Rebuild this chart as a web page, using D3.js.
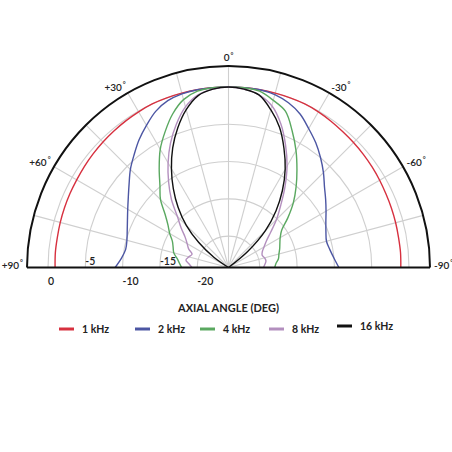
<!DOCTYPE html>
<html><head><meta charset="utf-8">
<script src="https://cdn.jsdelivr.net/npm/d3@7"></script>
<style>html,body{margin:0;padding:0;background:#fff;}svg{display:block;font-family:Lato,"Open Sans",sans-serif;}</style>
</head><body><svg id="chart" width="452" height="452"></svg>
<script>
// Angles (deg): + = left side, - = right side
const angles = [-90,-85,-80,-75,-70,-65,-60,-55,-50,-45,-40,-35,-30,-25,-20,-15,-10,-5,0,5,10,15,20,25,30,35,40,45,50,55,60,65,70,75,80,85,90];
// Relative level (dB) per series, same order as angles
const khz1  = [-1.1,-1.05,-1.05,-1.0,-0.95,-0.9,-0.8,-0.7,-0.6,-0.5,-0.4,-0.25,-0.1,0,0,0,0,0,0,0,0,0,0,0,-0.1,-0.2,-0.3,-0.4,-0.5,-0.6,-0.7,-0.75,-0.8,-0.85,-0.9,-0.9,-0.95];
const khz2  = [-9.4,-10.0,-10.4,-10.6,-10.3,-9.8,-9.1,-8.3,-7.4,-6.2,-5.0,-3.8,-2.7,-1.5,-0.7,-0.2,0,0,0,0,0,-0.1,-0.4,-1.1,-2.2,-3.3,-4.5,-5.6,-6.8,-7.8,-8.6,-9.25,-9.75,-10.1,-10.2,-9.8,-9.0];
const khz4  = [-18.0,-17.8,-17.4,-17.2,-16.9,-16.6,-16.2,-15.5,-13.8,-11.9,-10.1,-8.2,-6.1,-4.0,-1.9,-1.0,-0.2,0,0,0,-0.2,-0.9,-2.3,-4.1,-5.9,-8.0,-9.9,-11.3,-13.1,-14.3,-15.1,-15.9,-16.3,-16.6,-17.2,-17.6,-17.9];
const khz8  = [-19.5,-19.3,-19.1,-19.2,-19.4,-19.2,-18.7,-18.0,-16.8,-15.1,-13.3,-11.0,-8.5,-6.1,-3.7,-1.75,-0.7,-0.2,0,-0.2,-0.7,-1.9,-3.75,-5.8,-8.0,-10.2,-12.3,-14.5,-15.9,-17.1,-17.8,-18.3,-19.0,-18.7,-18.4,-18.9,-19.3];
const khz16 = [-30,-30,-30,-30,-30,-30,-30,-25,-20.8,-17.2,-14.3,-11.6,-9.0,-6.6,-4.2,-2.3,-0.7,-0.2,0,-0.2,-0.8,-2.3,-4.3,-6.5,-8.9,-11.3,-13.7,-16.2,-19.0,-21.8,-26,-30,-30,-30,-30,-30,-30];
const seriesNames = ["1 kHz","2 kHz","4 kHz","8 kHz","16 kHz"];
const seriesColors = ["#d7303f","#4c56a3","#5aa860","#b38fbe","#111111"];
const seriesValues = [khz1,khz2,khz4,khz8,khz16];
const ringValues = [0,-5,-10,-15,-20];
const ringLabels = ["0","-5","-10","-15","-20"];
const spokeAngles = [-75,-60,-45,-30,-15,0,15,30,45,60,75];
const angleTicks = [90,60,30,0,-30,-60,-90];
const angleLabels = ["+90","+60","+30","0","-30","-60","-90"];
const axisTitle = "AXIAL ANGLE (DEG)";

const svg = d3.select("#chart");
const cx = 228.5, cy = 267.5, rOuter = 201.5;
const r = d3.scaleLinear().domain([-24.2, 0]).range([0, 180.5]).clamp(true);
const toRad = d => -d * Math.PI / 180;
const g = svg.append("g").attr("transform", `translate(${cx},${cy})`);

// grid rings
const ringArc = d3.arc().startAngle(-Math.PI/2).endAngle(Math.PI/2).innerRadius(d => r(d)).outerRadius(d => r(d));
g.selectAll(".ring").data(ringValues).join("path")
  .attr("d", d => ringArc(d)).attr("fill","none").attr("stroke","#cfcfcf").attr("stroke-width",1.1);
// spokes
g.selectAll(".spoke").data(spokeAngles).join("line")
  .attr("x1",0).attr("y1",0)
  .attr("x2", d => rOuter*Math.sin(toRad(d))).attr("y2", d => -rOuter*Math.cos(toRad(d)))
  .attr("stroke","#cfcfcf").attr("stroke-width",1.1);

// series
const line = d3.lineRadial().angle(d => toRad(d[0])).radius(d => r(d[1])).curve(d3.curveCatmullRom.alpha(0.5));
seriesValues.forEach((vals,i) => {
  g.append("path").datum(angles.map((a,j) => [a, vals[j]]))
    .attr("d", line).attr("fill","none").attr("stroke", seriesColors[i]).attr("stroke-width",1.4);
});

// frame
g.append("path").attr("d", d3.arc().startAngle(-Math.PI/2).endAngle(Math.PI/2).innerRadius(rOuter).outerRadius(rOuter)())
  .attr("fill","none").attr("stroke","#111").attr("stroke-width",2);
g.append("line").attr("x1",-rOuter).attr("x2",rOuter).attr("y1",0).attr("y2",0).attr("stroke","#111").attr("stroke-width",2);

// ring labels
g.selectAll(".rl").data(ringValues).join("text")
  .attr("x", d => -r(d)).attr("y", (d,i) => i % 2 === 0 ? 17 : -2.5)
  .attr("font-size",10.5).attr("font-weight",600).attr("fill","#222").text((d,i) => ringLabels[i]);

// angle labels
const lr = rOuter + 4;
const al = g.selectAll(".al").data(angleTicks).join("text")
  .attr("x", d => lr*Math.sin(toRad(d)))
  .attr("y", d => d === 0 ? -lr - 5 : -lr*Math.cos(toRad(d)) - 3)
  .attr("text-anchor", d => d > 0 ? "end" : (d < 0 ? "start" : "middle"))
  .attr("dominant-baseline","central")
  .attr("font-size",10).attr("font-weight",600).attr("fill","#222");
al.append("tspan").text((d,i) => angleLabels[i]);
al.append("tspan").attr("font-size",7).attr("dy",-2.5).attr("dx",1).text("°");

// axis title
svg.append("text").attr("x", cx).attr("y", 312).attr("text-anchor","middle")
  .attr("font-size",11).attr("font-weight",700).attr("fill","#222").text(axisTitle);

// legend
const legX = [59,135,200,269,337];
const lg = svg.selectAll(".lg").data(seriesNames).join("g")
  .attr("transform",(d,i) => `translate(${legX[i]},${i===4?326:329})`);
lg.append("line").attr("x1",0).attr("x2",15).attr("y1",0).attr("y2",0)
  .attr("stroke",(d,i) => seriesColors[i]).attr("stroke-width",3);
lg.append("text").attr("x",23).attr("y",0).attr("dominant-baseline","central")
  .attr("font-size",10.5).attr("font-weight",700).attr("fill","#222").text(d => d);
</script></body></html>
